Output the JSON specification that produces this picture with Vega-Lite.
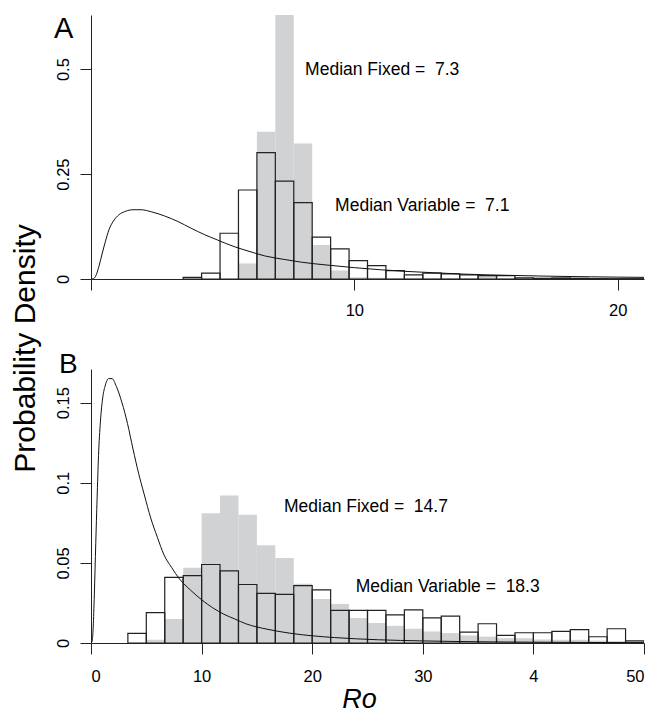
{
  "$schema": "https://vega.github.io/schema/vega-lite/v6.json",
  "padding": {"left": 9, "top": 15, "right": 8, "bottom": 2},
  "bounds": "flush",
  "spacing": 90,
  "config": {
    "view": {"stroke": null},
    "font": "Liberation Sans",
    "axis": {
      "grid": false,
      "domainColor": "#222222",
      "tickColor": "#222222",
      "labelColor": "#000000",
      "labelFont": "Liberation Sans",
      "labelFontSize": 16.5,
      "tickSize": 11,
      "titleFont": "Liberation Sans",
      "titleColor": "#000000",
      "titleFontWeight": "normal"
    }
  },
  "datasets": {
    "histA": [
      {"bin_start": 3.5, "bin_end": 4.2, "fixed": 0, "variable": 0.004},
      {"bin_start": 4.2, "bin_end": 4.9, "fixed": 0, "variable": 0.014},
      {"bin_start": 4.9, "bin_end": 5.6, "fixed": 0, "variable": 0.109},
      {"bin_start": 5.6, "bin_end": 6.3, "fixed": 0.037, "variable": 0.212},
      {"bin_start": 6.3, "bin_end": 7.0, "fixed": 0.351, "variable": 0.301},
      {"bin_start": 7.0, "bin_end": 7.7, "fixed": 0.66, "variable": 0.233},
      {"bin_start": 7.7, "bin_end": 8.4, "fixed": 0.323, "variable": 0.182},
      {"bin_start": 8.4, "bin_end": 9.1, "fixed": 0.081, "variable": 0.1},
      {"bin_start": 9.1, "bin_end": 9.8, "fixed": 0.02, "variable": 0.072},
      {"bin_start": 9.8, "bin_end": 10.5, "fixed": 0.004, "variable": 0.044},
      {"bin_start": 10.5, "bin_end": 11.2, "fixed": 0.003, "variable": 0.032},
      {"bin_start": 11.2, "bin_end": 11.9, "fixed": 0.002, "variable": 0.02},
      {"bin_start": 11.9, "bin_end": 12.6, "fixed": 0.002, "variable": 0.01},
      {"bin_start": 12.6, "bin_end": 13.3, "fixed": 0.002, "variable": 0.014},
      {"bin_start": 13.3, "bin_end": 14.0, "fixed": 0.002, "variable": 0.012},
      {"bin_start": 14.0, "bin_end": 14.7, "fixed": 0.002, "variable": 0.01},
      {"bin_start": 14.7, "bin_end": 15.4, "fixed": 0.008, "variable": 0.008},
      {"bin_start": 15.4, "bin_end": 16.1, "fixed": 0.002, "variable": 0.008},
      {"bin_start": 16.1, "bin_end": 16.8, "fixed": 0.001, "variable": 0.003},
      {"bin_start": 16.8, "bin_end": 17.5, "fixed": 0.001, "variable": 0.0017},
      {"bin_start": 17.5, "bin_end": 18.2, "fixed": 0.001, "variable": 0.0025},
      {"bin_start": 18.2, "bin_end": 18.9, "fixed": 0.001, "variable": 0.0017},
      {"bin_start": 18.9, "bin_end": 19.6, "fixed": 0.0005, "variable": 0.001},
      {"bin_start": 19.6, "bin_end": 20.3, "fixed": 0.0005, "variable": 0.0008},
      {"bin_start": 20.3, "bin_end": 21.0, "fixed": 0.0005, "variable": 0.0008}
    ],
    "histB": [
      {"bin_start": 3.333, "bin_end": 5, "fixed": 0, "variable": 0.006},
      {"bin_start": 5, "bin_end": 6.667, "fixed": 0.002, "variable": 0.019},
      {"bin_start": 6.667, "bin_end": 8.333, "fixed": 0.015, "variable": 0.041},
      {"bin_start": 8.333, "bin_end": 10, "fixed": 0.047, "variable": 0.042},
      {"bin_start": 10, "bin_end": 11.667, "fixed": 0.081, "variable": 0.049},
      {"bin_start": 11.667, "bin_end": 13.333, "fixed": 0.092, "variable": 0.045},
      {"bin_start": 13.333, "bin_end": 15, "fixed": 0.08, "variable": 0.0365},
      {"bin_start": 15, "bin_end": 16.667, "fixed": 0.061, "variable": 0.031},
      {"bin_start": 16.667, "bin_end": 18.333, "fixed": 0.053, "variable": 0.0304},
      {"bin_start": 18.333, "bin_end": 20, "fixed": 0.037, "variable": 0.0358},
      {"bin_start": 20, "bin_end": 21.667, "fixed": 0.0275, "variable": 0.0331},
      {"bin_start": 21.667, "bin_end": 23.333, "fixed": 0.0244, "variable": 0.0204},
      {"bin_start": 23.333, "bin_end": 25, "fixed": 0.0156, "variable": 0.0204},
      {"bin_start": 25, "bin_end": 26.667, "fixed": 0.0125, "variable": 0.0204},
      {"bin_start": 26.667, "bin_end": 28.333, "fixed": 0.0107, "variable": 0.0175},
      {"bin_start": 28.333, "bin_end": 30, "fixed": 0.0089, "variable": 0.0207},
      {"bin_start": 30, "bin_end": 31.667, "fixed": 0.0072, "variable": 0.0157},
      {"bin_start": 31.667, "bin_end": 33.333, "fixed": 0.0062, "variable": 0.0168},
      {"bin_start": 33.333, "bin_end": 35, "fixed": 0.0047, "variable": 0.0068},
      {"bin_start": 35, "bin_end": 36.667, "fixed": 0.004, "variable": 0.012},
      {"bin_start": 36.667, "bin_end": 38.333, "fixed": 0.003, "variable": 0.0047},
      {"bin_start": 38.333, "bin_end": 40, "fixed": 0.003, "variable": 0.0064},
      {"bin_start": 40, "bin_end": 41.667, "fixed": 0.0022, "variable": 0.0064},
      {"bin_start": 41.667, "bin_end": 43.333, "fixed": 0.002, "variable": 0.0072},
      {"bin_start": 43.333, "bin_end": 45, "fixed": 0.002, "variable": 0.0084},
      {"bin_start": 45, "bin_end": 46.667, "fixed": 0.0015, "variable": 0.0039},
      {"bin_start": 46.667, "bin_end": 48.333, "fixed": 0.0012, "variable": 0.0089},
      {"bin_start": 48.333, "bin_end": 50, "fixed": 0.001, "variable": 0.0013}
    ],
    "prior": [
      {"x": 0, "density": 0},
      {"x": 0.1, "density": 0.001},
      {"x": 0.2, "density": 0.01},
      {"x": 0.3, "density": 0.03},
      {"x": 0.43, "density": 0.062},
      {"x": 0.55, "density": 0.09},
      {"x": 0.68, "density": 0.117},
      {"x": 0.85, "density": 0.138},
      {"x": 1.06, "density": 0.153},
      {"x": 1.3, "density": 0.161},
      {"x": 1.6, "density": 0.165},
      {"x": 1.9, "density": 0.165},
      {"x": 2.3, "density": 0.16},
      {"x": 2.8, "density": 0.15},
      {"x": 3.3, "density": 0.137},
      {"x": 3.8, "density": 0.121},
      {"x": 4.3, "density": 0.106},
      {"x": 4.8, "density": 0.093},
      {"x": 5.4, "density": 0.078},
      {"x": 6.0, "density": 0.066},
      {"x": 6.6, "density": 0.055},
      {"x": 7.3, "density": 0.047},
      {"x": 8.0, "density": 0.04},
      {"x": 9.0, "density": 0.033},
      {"x": 10, "density": 0.027},
      {"x": 11, "density": 0.022},
      {"x": 12, "density": 0.018},
      {"x": 13, "density": 0.015},
      {"x": 14, "density": 0.012},
      {"x": 15, "density": 0.01},
      {"x": 16, "density": 0.0085},
      {"x": 17, "density": 0.0072},
      {"x": 18, "density": 0.0061},
      {"x": 19, "density": 0.0052},
      {"x": 20, "density": 0.0045},
      {"x": 21, "density": 0.0039},
      {"x": 22, "density": 0.0034},
      {"x": 24, "density": 0.0026},
      {"x": 26, "density": 0.002},
      {"x": 28, "density": 0.0016},
      {"x": 30, "density": 0.0013},
      {"x": 33, "density": 0.00095},
      {"x": 36, "density": 0.0007},
      {"x": 40, "density": 0.0005},
      {"x": 45, "density": 0.00033},
      {"x": 50, "density": 0.00022}
    ],
    "notesA": [
      {"x": 8.13, "y": 0.498, "label": "Median Fixed = \u00a07.3"},
      {"x": 9.27, "y": 0.173, "label": "Median Variable = \u00a07.1"}
    ],
    "notesB": [
      {"x": 17.45, "y": 0.0849, "label": "Median Fixed = \u00a014.7"},
      {"x": 23.93, "y": 0.0349, "label": "Median Variable = \u00a018.3"}
    ],
    "tagA": [{"x": -1.405, "y": 0.574, "label": "A"}],
    "tagB": [{"x": -2.89, "y": 0.1686, "label": "B"}]
  },
  "vconcat": [
    {
      "width": 553,
      "height": 264,
      "layer": [
        {
          "data": {"name": "histA"},
          "mark": {"type": "rect", "fill": "#d1d2d4", "clip": true},
          "encoding": {
            "x": {"field": "bin_start", "type": "quantitative", "scale": {"domain": [0, 21], "nice": false, "zero": false},
              "axis": {"values": [0, 10, 20], "labelExpr": "datum.value == 0 ? '' : datum.label", "labelPadding": 12, "title": null}},
            "x2": {"field": "bin_end"},
            "y": {"field": "fixed", "type": "quantitative", "scale": {"domain": [0, 0.629], "nice": false},
              "axis": {"values": [0, 0.25, 0.5], "labelExpr": "'' + datum.value", "labelAngle": 270, "labelAlign": "center", "labelBaseline": "bottom", "labelPadding": 8.5, "title": null}},
            "y2": {"datum": 0}
          }
        },
        {
          "data": {"name": "histA"},
          "mark": {"type": "rect", "fill": "#ffffff", "fillOpacity": 0, "stroke": "#222222", "strokeWidth": 1.2, "clip": true},
          "encoding": {
            "x": {"field": "bin_start", "type": "quantitative"},
            "x2": {"field": "bin_end"},
            "y": {"field": "variable", "type": "quantitative"},
            "y2": {"datum": 0}
          }
        },
        {
          "data": {"name": "prior"},
          "mark": {"type": "line", "color": "#111111", "strokeWidth": 1, "clip": true, "interpolate": "monotone"},
          "encoding": {
            "x": {"field": "x", "type": "quantitative"},
            "y": {"field": "density", "type": "quantitative"}
          }
        },
        {
          "data": {"name": "notesA"},
          "mark": {"type": "text", "align": "left", "baseline": "middle", "fontSize": 17.5, "font": "Liberation Sans", "color": "#000000"},
          "encoding": {
            "x": {"field": "x", "type": "quantitative"},
            "y": {"field": "y", "type": "quantitative"},
            "text": {"field": "label"}
          }
        },
        {
          "data": {"name": "tagA"},
          "mark": {"type": "text", "align": "left", "baseline": "alphabetic", "fontSize": 29, "font": "Liberation Sans", "color": "#000000"},
          "encoding": {
            "x": {"field": "x", "type": "quantitative"},
            "y": {"field": "y", "type": "quantitative"},
            "text": {"field": "label"}
          }
        }
      ]
    },
    {
      "width": 553,
      "height": 274,
      "layer": [
        {
          "data": {"name": "histB"},
          "mark": {"type": "rect", "fill": "#d1d2d4", "clip": true},
          "encoding": {
            "x": {"field": "bin_start", "type": "quantitative", "scale": {"domain": [0, 50], "nice": false, "zero": false},
              "axis": {"values": [0, 10, 20, 30, 40, 50], "labelExpr": "datum.value == 40 ? '4' : datum.label", "labelPadding": 14,
                "title": "Ro", "titleFontSize": 27, "titleFontStyle": "italic", "titlePadding": 2, "titleX": 268, "titleAlign": "center"}},
            "x2": {"field": "bin_end"},
            "y": {"field": "fixed", "type": "quantitative", "scale": {"domain": [0, 0.171], "nice": false},
              "axis": {"values": [0, 0.05, 0.1, 0.15], "labelExpr": "'' + datum.value", "labelAngle": 270, "labelAlign": "center", "labelBaseline": "bottom", "labelPadding": 8.5,
                "title": "Probability Density", "titleFontSize": 30, "titleAngle": 270, "titleAlign": "center", "titleBaseline": "middle", "titleX": -66, "titleY": -21}},
            "y2": {"datum": 0}
          }
        },
        {
          "data": {"name": "histB"},
          "mark": {"type": "rect", "fill": "#ffffff", "fillOpacity": 0, "stroke": "#222222", "strokeWidth": 1.2, "clip": true},
          "encoding": {
            "x": {"field": "bin_start", "type": "quantitative"},
            "x2": {"field": "bin_end"},
            "y": {"field": "variable", "type": "quantitative"},
            "y2": {"datum": 0}
          }
        },
        {
          "data": {"name": "prior"},
          "mark": {"type": "line", "color": "#111111", "strokeWidth": 1, "clip": true, "interpolate": "monotone"},
          "encoding": {
            "x": {"field": "x", "type": "quantitative"},
            "y": {"field": "density", "type": "quantitative"}
          }
        },
        {
          "data": {"name": "notesB"},
          "mark": {"type": "text", "align": "left", "baseline": "middle", "fontSize": 17.5, "font": "Liberation Sans", "color": "#000000"},
          "encoding": {
            "x": {"field": "x", "type": "quantitative"},
            "y": {"field": "y", "type": "quantitative"},
            "text": {"field": "label"}
          }
        },
        {
          "data": {"name": "tagB"},
          "mark": {"type": "text", "align": "left", "baseline": "alphabetic", "fontSize": 28, "font": "Liberation Sans", "color": "#000000"},
          "encoding": {
            "x": {"field": "x", "type": "quantitative"},
            "y": {"field": "y", "type": "quantitative"},
            "text": {"field": "label"}
          }
        }
      ]
    }
  ]
}
